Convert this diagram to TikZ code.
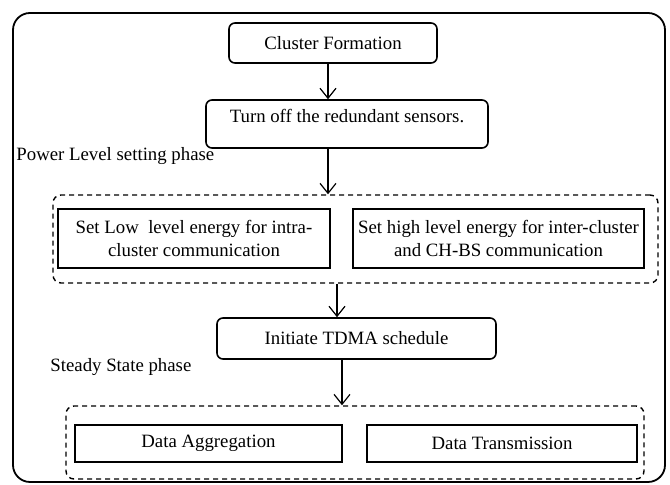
\documentclass[tikz,border=0pt]{standalone}
\usepackage{fontspec}
\setmainfont{Liberation Serif}
\usetikzlibrary{arrows.meta}
\begin{document}
\begin{tikzpicture}[x=0.5pt,y=-0.5pt,
  every node/.style={font=\fontsize{9.4}{11.2}\selectfont, inner sep=0pt},
  rbox/.style={draw, rounded corners=3pt, line width=0.8pt},
  sbox/.style={draw, line width=0.8pt, align=center},
  group/.style={draw, dashed, dash pattern=on 2.5pt off 2pt, rounded corners=4pt, line width=0.7pt},
  arr/.style={line width=0.6pt, -{Straight Barb[length=5pt,width=8pt,line width=0.6pt]}},
  phase/.style={anchor=west}
]
\useasboundingbox (0,0) rectangle (670,485);
\draw[line width=0.9pt, rounded corners=8.5pt] (13,13) rectangle (665,482);

\node[rbox, minimum width=104pt, minimum height=20pt] (cf) at (333,43) {Cluster Formation};
\node[rbox, minimum width=141pt, minimum height=24pt, text height=7pt, text depth=8pt] (to) at (347,124) {Turn off the redundant sensors.};
\node[phase] (pl) at (16,156) {Power Level setting phase};

\node[group, minimum width=302.5pt, minimum height=44pt] (g1) at (355.5,239) {};
\node[sbox, minimum width=136pt, minimum height=29.5pt] (lo) at (194,238.5) {Set Low\ \ level energy for intra-\\cluster communication};
\node[sbox, minimum width=145.5pt, minimum height=29.5pt] (hi) at (498.5,238.5) {Set high level energy for inter-cluster\\and CH-BS communication};

\node[rbox, minimum width=139.5pt, minimum height=20.5pt] (td) at (356.5,338.5) {Initiate TDMA schedule};
\node[phase] (ss) at (50,367) {Steady State phase};

\node[group, minimum width=289pt, minimum height=36.5pt] (g2) at (355,442.5) {};
\node[sbox, minimum width=133.5pt, minimum height=18.5pt] (da) at (208.5,443.5) {Data Aggregation};
\node[sbox, minimum width=135pt, minimum height=18.5pt] (dt) at (502,443.5) {Data Transmission};

\draw[arr] (cf.south -| 328,0) -- (to.north -| 328,0);
\draw[arr] (to.south -| 328,0) -- (g1.north -| 328,0);
\draw[arr] (g1.south -| 337,0) -- (td.north -| 337,0);
\draw[arr] (td.south -| 342,0) -- (g2.north -| 342,0);
\end{tikzpicture}
\end{document}
